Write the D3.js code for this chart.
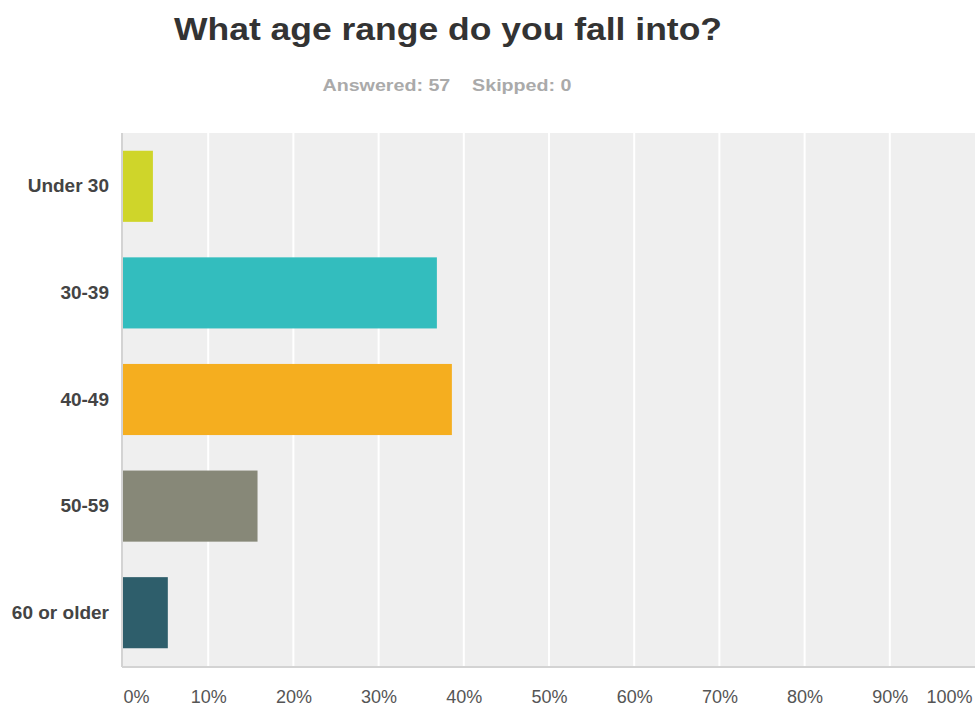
<!DOCTYPE html>
<html>
<head>
<meta charset="utf-8">
<script src="https://cdn.jsdelivr.net/npm/d3@7"></script>
<style>
  body { margin: 0; background: #fff; }
  svg { display: block; }
</style>
</head>
<body>
<svg id="chart" width="976" height="706"></svg>
<script>
// answer options and share of respondents (%), 57 answered
var categories = ["Under 30", "30-39", "40-49", "50-59", "60 or older"];
var percents = [3.51, 36.84, 38.60, 15.79, 5.26];
var barColors = ["#cfd52a", "#33bdbe", "#f5ae1f", "#878878", "#2e5e6b"];
var tickValues = [0, 10, 20, 30, 40, 50, 60, 70, 80, 90, 100];
var tickLabels = ["0%", "10%", "20%", "30%", "40%", "50%", "60%", "70%", "80%", "90%", "100%"];

var svg = d3.select("#chart"),
    margin = { top: 133, right: 1, bottom: 40, left: 123 },
    width = 976 - margin.left - margin.right,
    height = 706 - margin.top - margin.bottom;

// title and response counts
svg.append("text")
    .attr("x", 448).attr("y", 40)
    .attr("text-anchor", "middle")
    .attr("textLength", 548)
    .attr("lengthAdjust", "spacingAndGlyphs")
    .style("font", "bold 31px 'Liberation Sans', Arial, sans-serif")
    .style("fill", "#333")
    .text("What age range do you fall into?");

svg.append("text")
    .attr("x", 447).attr("y", 91)
    .attr("text-anchor", "middle")
    .attr("textLength", 249)
    .attr("lengthAdjust", "spacingAndGlyphs")
    .style("font", "bold 16px 'Liberation Sans', Arial, sans-serif")
    .style("fill", "#aaa")
    .style("white-space", "pre")
    .text("Answered: 57    Skipped: 0");

var g = svg.append("g").attr("transform", "translate(" + margin.left + "," + margin.top + ")");

var x = d3.scaleLinear().domain([0, 100]).range([0, width]);
var y = d3.scaleBand().domain(categories).range([0, height]).paddingInner(0.333).paddingOuter(0.1665);

// plot background
g.append("rect")
    .attr("width", width).attr("height", height)
    .attr("fill", "#efefef");

// white vertical grid lines
g.selectAll(".grid")
    .data(tickValues.slice(1, -1))
    .enter().append("line")
    .attr("class", "grid")
    .attr("x1", function(d) { return x(d); })
    .attr("x2", function(d) { return x(d); })
    .attr("y1", 0).attr("y2", height)
    .attr("stroke", "#fff").attr("stroke-width", 2);

// bars
g.selectAll(".bar")
    .data(percents)
    .enter().append("rect")
    .attr("class", "bar")
    .attr("x", 0)
    .attr("y", function(d, i) { return y(categories[i]); })
    .attr("width", function(d) { return x(d); })
    .attr("height", y.bandwidth())
    .attr("fill", function(d, i) { return barColors[i]; });

// axis lines
g.append("line")
    .attr("x1", -1).attr("x2", -1).attr("y1", 0).attr("y2", height + 1)
    .attr("stroke", "#d3d3d3").attr("stroke-width", 2);
g.append("line")
    .attr("x1", -1).attr("x2", width).attr("y1", height + 1).attr("y2", height + 1)
    .attr("stroke", "#d3d3d3").attr("stroke-width", 2);

// y axis (category labels)
var yAxis = g.append("g")
    .call(d3.axisLeft(y).tickSize(0).tickPadding(14));
yAxis.select(".domain").remove();
yAxis.selectAll("text")
    .style("font", "bold 19px 'Liberation Sans', Arial, sans-serif")
    .style("fill", "#444");

// x axis (percent labels)
var xAxis = g.append("g")
    .attr("transform", "translate(0," + height + ")")
    .call(d3.axisBottom(x).tickValues(tickValues)
        .tickFormat(function(d, i) { return tickLabels[i]; })
        .tickSize(0).tickPadding(24));
xAxis.select(".domain").remove();
xAxis.selectAll("text")
    .style("font", "18px 'Liberation Sans', Arial, sans-serif")
    .style("fill", "#555")
    .attr("text-anchor", function(d) { return d === 0 ? "start" : d === 100 ? "end" : "middle"; })
    .attr("x", function(d) { return d === 100 ? -3 : 0; });
</script>
</body>
</html>
